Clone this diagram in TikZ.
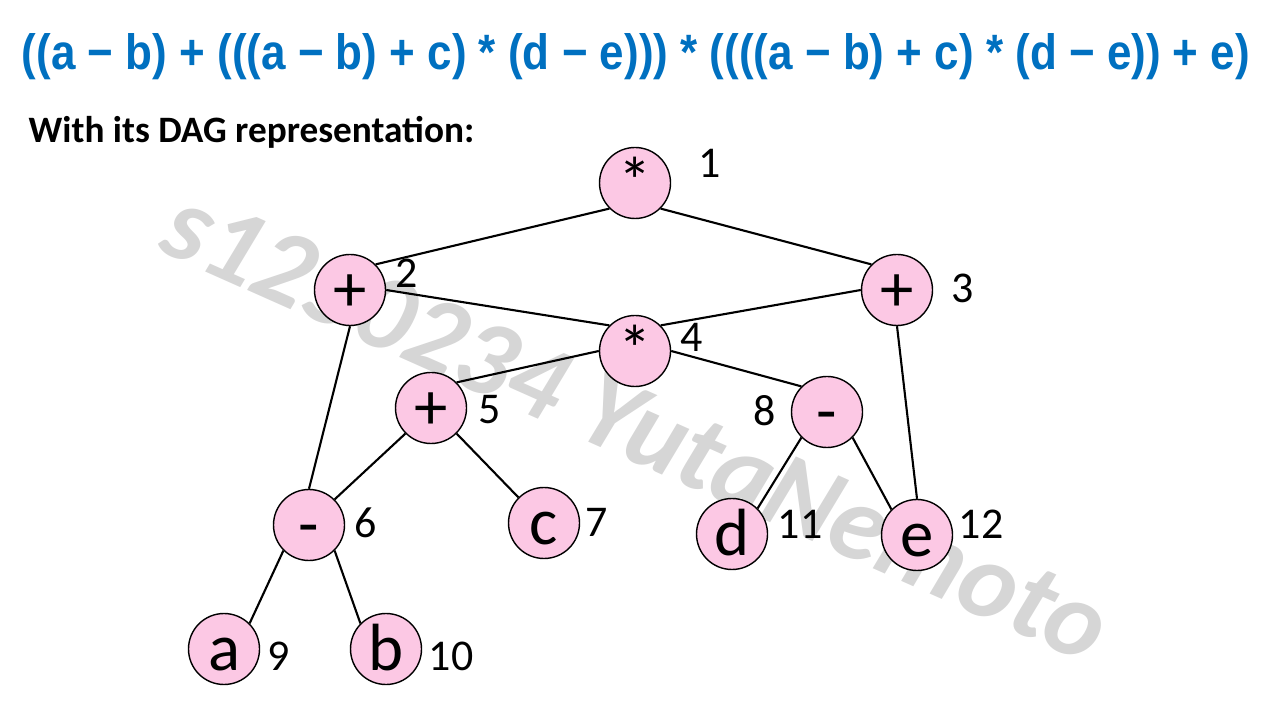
\documentclass[tikz,border=0pt]{standalone}
\usepackage{fontspec}
\usepackage{graphicx}
\setmainfont{Carlito}
\newfontfamily\titlefont{Liberation Sans}

\definecolor{nodepink}{RGB}{252,200,228}
\definecolor{titleblue}{RGB}{0,112,192}
\definecolor{markgray}{RGB}{214,214,214}

\tikzset{
  vert/.style={circle,draw=black,line width=0.4pt,fill=nodepink,minimum size=0.71cm,inner sep=0pt,
    font=\fontsize{19}{19}\selectfont,text height=12.5pt,text depth=0pt},
  edge/.style={line width=0.6pt},
  num/.style={inner sep=0pt,font=\fontsize{12.5}{12.5}\selectfont}
}

\begin{document}
\begin{tikzpicture}
\useasboundingbox (0,0) rectangle (12.8,-7.2);

% watermark behind the graph
\node[markgray,rotate=-24,font=\fontsize{31}{31}\selectfont\bfseries\itshape] (mark) at (6.37,-4.25) {s1250234 YutaNemoto};

\node (title) at (6.36,-0.57) {\titlefont\bfseries\color{titleblue}\resizebox{12.28cm}{0.36cm}{((a − b) + (((a − b) + c) * (d − e))) * ((((a − b) + c) * (d − e)) + e)}};
\node[anchor=base west,inner sep=0pt,font=\fontsize{10.6}{10.6}\selectfont\bfseries] (caption) at (0.28,-1.43) {With its DAG representation:};

\node[vert] (n1) at (6.35,-1.83) {*};
\node[vert] (n2) at (3.50,-2.90) {+};
\node[vert] (n3) at (8.97,-2.90) {+};
\node[vert] (n4) at (6.35,-3.51) {*};
\node[vert] (n5) at (4.31,-4.08) {+};
\node[vert] (n6) at (3.09,-5.25) {-};
\node[vert] (n7) at (5.44,-5.23) {c};
\node[vert] (n8) at (8.27,-4.12) {-};
\node[vert] (n9) at (2.24,-6.49) {a};
\node[vert] (n10) at (3.86,-6.49) {b};
\node[vert] (n11) at (7.32,-5.34) {d};
\node[vert] (n12) at (9.17,-5.35) {e};

% connectors end on the circles' connection points
\foreach \a/\b in {n1.south west/n2.north east,n1.south east/n3.north west,n2.east/n4.north west,n3.west/n4.north east,
	n2.south/n6.north,n4.west/n5.north east,n4.east/n8.north west,n3.south/n12.north,n5.south west/n6.north east,
	n5.south east/n7.north west,n8.south west/n11.north east,n8.south east/n12.north west,n6.south west/n9.north east,
	n6.south east/n10.north west}
	\draw[edge] (\a) -- (\b);

\foreach \t/\x/\y in {1/7.10/-1.63,2/4.07/-2.73,3/9.63/-2.88,4/6.92/-3.37,5/4.90/-4.10,6/3.66/-5.23,7/5.97/-5.22,8/7.65/-4.11,9/2.79/-6.56,10/4.51/-6.56,11/8.00/-5.24,12/9.81/-5.24}
	\node[num] (l\t) at (\x,\y) {\t};
\end{tikzpicture}
\end{document}
